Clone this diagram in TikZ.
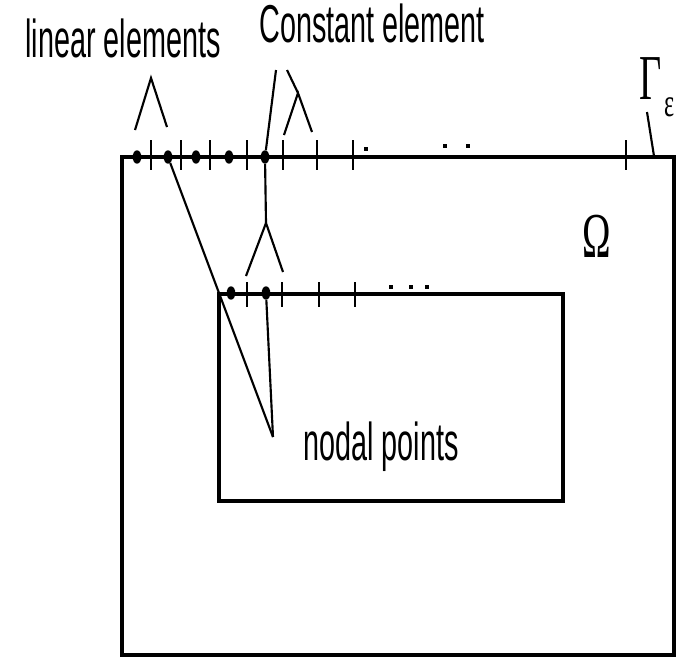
\documentclass[tikz,border=0pt]{standalone}
\usepackage{fontspec}
\usetikzlibrary{shapes.geometric, positioning}
\newfontfamily\lblfont[FakeStretch=0.54]{Liberation Sans}
\newfontfamily\grkfont[FakeStretch=0.6]{Liberation Serif}
\tikzset{
  frame/.style  = {draw=black, line width=2.8pt},
  nodept/.style = {ellipse, fill=black, inner sep=0pt,
                   minimum width=6.5pt, minimum height=10pt},
  tickmk/.style = {line width=2pt},
  lead/.style   = {line width=1.6pt},
  gapdot/.style = {rectangle, fill=black, inner sep=0pt, minimum size=2.8pt},
  lbl/.style    = {font=\fontsize{40}{44}\lblfont, inner sep=0pt, anchor=base west},
  grk/.style    = {font=\fontsize{48}{52}\grkfont, inner sep=0pt, anchor=base},
}

\begin{document}
\begin{tikzpicture}[x=0.75pt, y=-0.75pt]
\useasboundingbox (0,0) rectangle (679,658);

% ---- Domains ----------------------------------------------------------------
\draw[frame] (122,157) rectangle (674,655);
\draw[frame] (219,294) rectangle (563,501);

% ---- Nodal points -----------------------------------------------------------
\node[nodept] (o1) at (137,157) {};
\node[nodept] (o2) at (168,157) {};
\node[nodept] (o3) at (196,157) {};
\node[nodept] (o4) at (229,157) {};
\node[nodept] (o5) at (265,157) {};
\node[nodept] (i1) at (231,293) {};
\node[nodept] (i2) at (266,293) {};

% ---- Element ends -----------------------------------------------------------
\foreach \x in {151,181,210,247,283,317,353,626}
  \draw[tickmk] (\x,140) -- (\x,170);
\foreach \x in {247,282,319,355}
  \draw[tickmk] (\x,282) -- (\x,307);

\foreach \x/\y [count=\k] in {366/149, 445/146, 468/146, 391/287, 411/287, 427/287}
  \node[gapdot] (g\k) at (\x,\y) {};

% ---- Labels -----------------------------------------------------------------
\node[lbl] (lin)   at (25,57)   {linear elements};
\node[lbl] (const) at (259,42)  {Constant element};
\node[lbl] (nodal) at (303,460) {nodal points};

\node[grk] (omega) at (597,257) {Ω};
\node[grk] (gam)   at (651,99)  {Γ};
\node[grk, font=\fontsize{30}{32}\grkfont] (eps) at (670,116) {ε};

% ---- Pointers ---------------------------------------------------------------
\coordinate (linA)  at (151,78);
\coordinate (linL)  at (135,130);
\coordinate (linR)  at (167,127);
\draw[lead] (linL) -- (linA) -- (linR);

\coordinate (cstA)  at (298,93);
\coordinate (cstL)  at (284,135);
\coordinate (cstR)  at (312,132);
\coordinate (cstT)  at (287,70);
\draw[lead] (cstL) -- (cstA) -- (cstR);
\draw[lead] (cstA) -- (cstT);

\coordinate (cst2T) at (276,70);
\coordinate (cst2A) at (266,223);
\coordinate (cst2L) at (246,276);
\coordinate (cst2R) at (283,272);
\draw[lead] (cst2T) -- (o5) -- (cst2A);
\draw[lead] (cst2L) -- (cst2A) -- (cst2R);

\coordinate (npA) at (273,437);
\draw[lead] (o2) -- (npA);
\draw[lead] (i2) -- (npA);

\coordinate (gamB) at (647,112);
\coordinate (gamE) at (654,156);
\draw[lead] (gamB) -- (gamE);

\end{tikzpicture}
\end{document}
